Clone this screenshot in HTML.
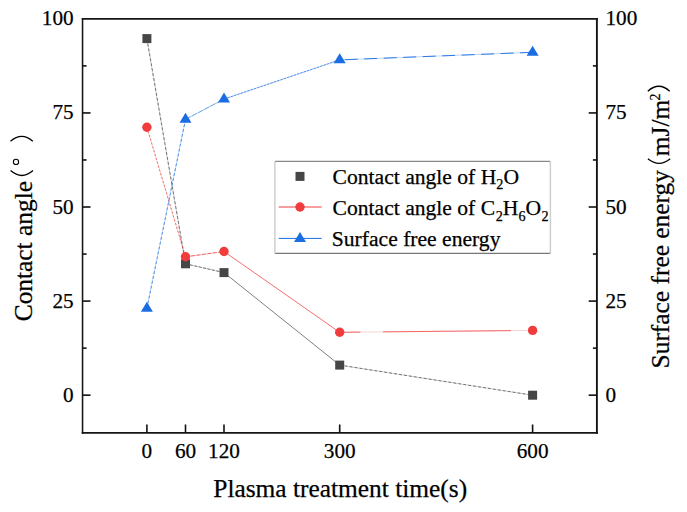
<!DOCTYPE html>
<html><head><meta charset="utf-8"><style>
html,body{margin:0;padding:0;background:#fff;}
body{width:687px;height:512px;overflow:hidden;font-family:"Liberation Serif", serif;}
svg{display:block;}
text{stroke:#000;stroke-width:0.25px;}
</style></head><body>
<svg width="687" height="512" viewBox="0 0 687 512">
<rect width="687" height="512" fill="#fff"/>
<line x1="82.55" y1="18.05" x2="82.55" y2="433.7" stroke="#151515" stroke-width="1.55"/>
<line x1="596.9" y1="18.05" x2="596.9" y2="433.7" stroke="#151515" stroke-width="1.9"/>
<line x1="81.75" y1="18.85" x2="597.85" y2="18.85" stroke="#151515" stroke-width="1.55"/>
<line x1="81.75" y1="432.8" x2="597.85" y2="432.8" stroke="#151515" stroke-width="1.85"/>
<line x1="82.55" y1="395.17" x2="90.55" y2="395.17" stroke="#111" stroke-width="1.6"/>
<line x1="596.9" y1="395.17" x2="588.6999999999999" y2="395.17" stroke="#111" stroke-width="1.6"/>
<line x1="82.55" y1="301.09" x2="90.55" y2="301.09" stroke="#111" stroke-width="1.6"/>
<line x1="596.9" y1="301.09" x2="588.6999999999999" y2="301.09" stroke="#111" stroke-width="1.6"/>
<line x1="82.55" y1="207.01" x2="90.55" y2="207.01" stroke="#111" stroke-width="1.6"/>
<line x1="596.9" y1="207.01" x2="588.6999999999999" y2="207.01" stroke="#111" stroke-width="1.6"/>
<line x1="82.55" y1="112.93" x2="90.55" y2="112.93" stroke="#111" stroke-width="1.6"/>
<line x1="596.9" y1="112.93" x2="588.6999999999999" y2="112.93" stroke="#111" stroke-width="1.6"/>
<line x1="82.55" y1="348.13" x2="86.55" y2="348.13" stroke="#111" stroke-width="1.6"/>
<line x1="596.9" y1="348.13" x2="592.9" y2="348.13" stroke="#111" stroke-width="1.6"/>
<line x1="82.55" y1="254.05" x2="86.55" y2="254.05" stroke="#111" stroke-width="1.6"/>
<line x1="596.9" y1="254.05" x2="592.9" y2="254.05" stroke="#111" stroke-width="1.6"/>
<line x1="82.55" y1="159.97" x2="86.55" y2="159.97" stroke="#111" stroke-width="1.6"/>
<line x1="596.9" y1="159.97" x2="592.9" y2="159.97" stroke="#111" stroke-width="1.6"/>
<line x1="82.55" y1="65.89" x2="86.55" y2="65.89" stroke="#111" stroke-width="1.6"/>
<line x1="596.9" y1="65.89" x2="592.9" y2="65.89" stroke="#111" stroke-width="1.6"/>
<line x1="146.9" y1="432.8" x2="146.9" y2="424.5" stroke="#111" stroke-width="1.6"/>
<line x1="185.5" y1="432.8" x2="185.5" y2="424.5" stroke="#111" stroke-width="1.6"/>
<line x1="224.0" y1="432.8" x2="224.0" y2="424.5" stroke="#111" stroke-width="1.6"/>
<line x1="339.7" y1="432.8" x2="339.7" y2="424.5" stroke="#111" stroke-width="1.6"/>
<line x1="532.6" y1="432.8" x2="532.6" y2="424.5" stroke="#111" stroke-width="1.6"/>
<text x="73.6" y="401.67" text-anchor="end" font-family="Liberation Serif" font-size="21.2" fill="#000">0</text>
<text x="605.5" y="401.67" text-anchor="start" font-family="Liberation Serif" font-size="21.2" fill="#000">0</text>
<text x="73.6" y="307.59" text-anchor="end" font-family="Liberation Serif" font-size="21.2" fill="#000">25</text>
<text x="605.5" y="307.59" text-anchor="start" font-family="Liberation Serif" font-size="21.2" fill="#000">25</text>
<text x="73.6" y="213.51" text-anchor="end" font-family="Liberation Serif" font-size="21.2" fill="#000">50</text>
<text x="605.5" y="213.51" text-anchor="start" font-family="Liberation Serif" font-size="21.2" fill="#000">50</text>
<text x="73.6" y="119.43" text-anchor="end" font-family="Liberation Serif" font-size="21.2" fill="#000">75</text>
<text x="605.5" y="119.43" text-anchor="start" font-family="Liberation Serif" font-size="21.2" fill="#000">75</text>
<text x="73.6" y="25.35" text-anchor="end" font-family="Liberation Serif" font-size="21.2" fill="#000">100</text>
<text x="605.5" y="25.35" text-anchor="start" font-family="Liberation Serif" font-size="21.2" fill="#000">100</text>
<text x="146.90" y="458.2" text-anchor="middle" font-family="Liberation Serif" font-size="21.2" fill="#000">0</text>
<text x="185.50" y="458.2" text-anchor="middle" font-family="Liberation Serif" font-size="21.2" fill="#000">60</text>
<text x="224.00" y="458.2" text-anchor="middle" font-family="Liberation Serif" font-size="21.2" fill="#000">120</text>
<text x="339.70" y="458.2" text-anchor="middle" font-family="Liberation Serif" font-size="21.2" fill="#000">300</text>
<text x="532.60" y="458.2" text-anchor="middle" font-family="Liberation Serif" font-size="21.2" fill="#000">600</text>
<text x="213.3" y="497.4" font-family="Liberation Serif" font-size="25.4" fill="#000">Plasma treatment time(s)</text>
<text transform="translate(31.8,321.3) rotate(-90)" font-family="Liberation Serif" font-size="25.4" fill="#000">Contact angle</text>
<path d="M10.6,170.6 Q21.9,180.4 33,170.6" fill="none" stroke="#000" stroke-width="1.3"/>
<path d="M10.5,141.3 Q21.8,131.5 32.8,141.3" fill="none" stroke="#000" stroke-width="1.3"/>
<circle cx="16" cy="161.9" r="2.6" fill="none" stroke="#000" stroke-width="1.1"/>
<text transform="translate(668.6,368.4) rotate(-90)" font-family="Liberation Serif" font-size="25.4" fill="#000">Surface free energy</text>
<text transform="translate(668.6,156.2) rotate(-90)" font-family="Liberation Serif" font-size="25.4" fill="#000">mJ/m</text>
<text transform="translate(660.3,100.4) rotate(-90)" font-family="Liberation Serif" font-size="14" fill="#000">2</text>
<path d="M647.9,158.8 Q659.1,168 670.2,158.8" fill="none" stroke="#000" stroke-width="1.3"/>
<path d="M647.8,91.2 Q658.8,81.4 669.7,91.2" fill="none" stroke="#000" stroke-width="1.3"/>
<line x1="146.9" y1="38.6" x2="185.5" y2="263.8" stroke="#4a4a4a" stroke-width="0.72" opacity="0.3"/><line x1="146.9" y1="38.6" x2="185.5" y2="263.8" stroke="#4a4a4a" stroke-width="0.72" stroke-dasharray="3 2" stroke-dashoffset="0"/>
<line x1="185.5" y1="263.8" x2="224.0" y2="272.6" stroke="#4a4a4a" stroke-width="0.72" opacity="0.3"/><line x1="185.5" y1="263.8" x2="224.0" y2="272.6" stroke="#4a4a4a" stroke-width="0.72" stroke-dasharray="3 1.5" stroke-dashoffset="0"/>
<line x1="224.0" y1="272.6" x2="339.7" y2="365.1" stroke="#555" stroke-width="0.75"/>
<line x1="339.7" y1="365.1" x2="532.6" y2="395.2" stroke="#4a4a4a" stroke-width="0.72" opacity="0.3"/><line x1="339.7" y1="365.1" x2="532.6" y2="395.2" stroke="#4a4a4a" stroke-width="0.72" stroke-dasharray="3 2" stroke-dashoffset="0"/>
<line x1="146.9" y1="127.3" x2="185.5" y2="256.8" stroke="#F03C3C" stroke-width="0.72" opacity="0.3"/><line x1="146.9" y1="127.3" x2="185.5" y2="256.8" stroke="#F03C3C" stroke-width="0.72" stroke-dasharray="2 2" stroke-dashoffset="0"/>
<line x1="185.5" y1="256.8" x2="224.0" y2="251.5" stroke="#F03C3C" stroke-width="0.72" opacity="0.3"/><line x1="185.5" y1="256.8" x2="224.0" y2="251.5" stroke="#F03C3C" stroke-width="0.72" stroke-dasharray="4 1.5" stroke-dashoffset="0"/>
<line x1="224.0" y1="251.5" x2="339.7" y2="332.3" stroke="#F03C3C" stroke-width="0.75"/>
<line x1="339.7" y1="332.3" x2="532.6" y2="330.4" stroke="#F03C3C" stroke-width="0.72" opacity="0.3"/><line x1="339.7" y1="332.3" x2="532.6" y2="330.4" stroke="#F03C3C" stroke-width="0.72" stroke-dasharray="20.7 22.6 128 30" stroke-dashoffset="0"/>
<line x1="146.9" y1="308.3" x2="185.5" y2="119.4" stroke="#1A6DE3" stroke-width="0.72" opacity="0.3"/><line x1="146.9" y1="308.3" x2="185.5" y2="119.4" stroke="#1A6DE3" stroke-width="0.72" stroke-dasharray="3 2" stroke-dashoffset="0"/>
<line x1="185.5" y1="119.4" x2="224.0" y2="99.1" stroke="#3f85ea" stroke-width="0.7" opacity="0.3"/><line x1="185.5" y1="119.4" x2="224.0" y2="99.1" stroke="#3f85ea" stroke-width="0.7" stroke-dasharray="6 1" stroke-dashoffset="0"/>
<line x1="224.0" y1="99.1" x2="339.7" y2="59.9" stroke="#1A6DE3" stroke-width="0.72" opacity="0.3"/><line x1="224.0" y1="99.1" x2="339.7" y2="59.9" stroke="#1A6DE3" stroke-width="0.72" stroke-dasharray="2.5 1" stroke-dashoffset="0"/>
<line x1="339.7" y1="59.9" x2="532.6" y2="52.3" stroke="#1A6DE3" stroke-width="0.9" opacity="0.3"/><line x1="339.7" y1="59.9" x2="532.6" y2="52.3" stroke="#1A6DE3" stroke-width="0.9" stroke-dasharray="13 6.5" stroke-dashoffset="-5"/>
<rect x="142.40" y="34.10" width="9" height="9" fill="#464646"/>
<rect x="181.00" y="259.30" width="9" height="9" fill="#464646"/>
<rect x="219.50" y="268.10" width="9" height="9" fill="#464646"/>
<rect x="335.20" y="360.60" width="9" height="9" fill="#464646"/>
<rect x="528.10" y="390.70" width="9" height="9" fill="#464646"/>
<circle cx="146.90" cy="127.30" r="4.7" fill="#F03C3C"/>
<circle cx="185.50" cy="256.80" r="4.7" fill="#F03C3C"/>
<circle cx="224.00" cy="251.50" r="4.7" fill="#F03C3C"/>
<circle cx="339.70" cy="332.30" r="4.7" fill="#F03C3C"/>
<circle cx="532.60" cy="330.40" r="4.7" fill="#F03C3C"/>
<polygon points="146.90,301.63 152.90,311.63 140.90,311.63" fill="#1A6DE3"/>
<polygon points="185.50,112.73 191.50,122.73 179.50,122.73" fill="#1A6DE3"/>
<polygon points="224.00,92.43 230.00,102.43 218.00,102.43" fill="#1A6DE3"/>
<polygon points="339.70,53.23 345.70,63.23 333.70,63.23" fill="#1A6DE3"/>
<polygon points="532.60,45.63 538.60,55.63 526.60,55.63" fill="#1A6DE3"/>
<line x1="274.9" y1="161.4" x2="550.4" y2="161.4" stroke="#888" stroke-width="1.2"/>
<line x1="274.9" y1="253.4" x2="550.4" y2="253.4" stroke="#777" stroke-width="1.2"/>
<line x1="274.9" y1="161.4" x2="274.9" y2="253.4" stroke="#ccc" stroke-width="1.4"/>
<line x1="550.4" y1="161.4" x2="550.4" y2="253.4" stroke="#ccc" stroke-width="1.4"/>
<rect x="295.50" y="171.90" width="9" height="9" fill="#464646"/>
<line x1="278.7" y1="207" x2="321.7" y2="207" stroke="#F03C3C" stroke-width="1"/>
<circle cx="300.00" cy="207.00" r="4.7" fill="#F03C3C"/>
<line x1="278.7" y1="238.4" x2="321.7" y2="238.4" stroke="#1A6DE3" stroke-width="1"/>
<polygon points="300.00,232.03 306.00,242.03 294.00,242.03" fill="#1A6DE3"/>
<text x="332.6" y="183.5" font-family="Liberation Serif" font-size="21.6" fill="#000">Contact angle of H<tspan font-size="14.2" dy="5.8">2</tspan><tspan dy="-5.8">O</tspan></text>
<text x="332.6" y="214.7" font-family="Liberation Serif" font-size="21.6" fill="#000">Contact angle of C<tspan font-size="14.2" dx="0.6" dy="5.8">2</tspan><tspan dy="-5.8">H</tspan><tspan font-size="14.2" dy="5.8">6</tspan><tspan dy="-5.8">O</tspan><tspan font-size="14.2" dx="0.5" dy="5.8">2</tspan></text>
<text x="331.8" y="246" font-family="Liberation Serif" font-size="21.6" fill="#000">Surface free energy</text>
</svg>
</body></html>
